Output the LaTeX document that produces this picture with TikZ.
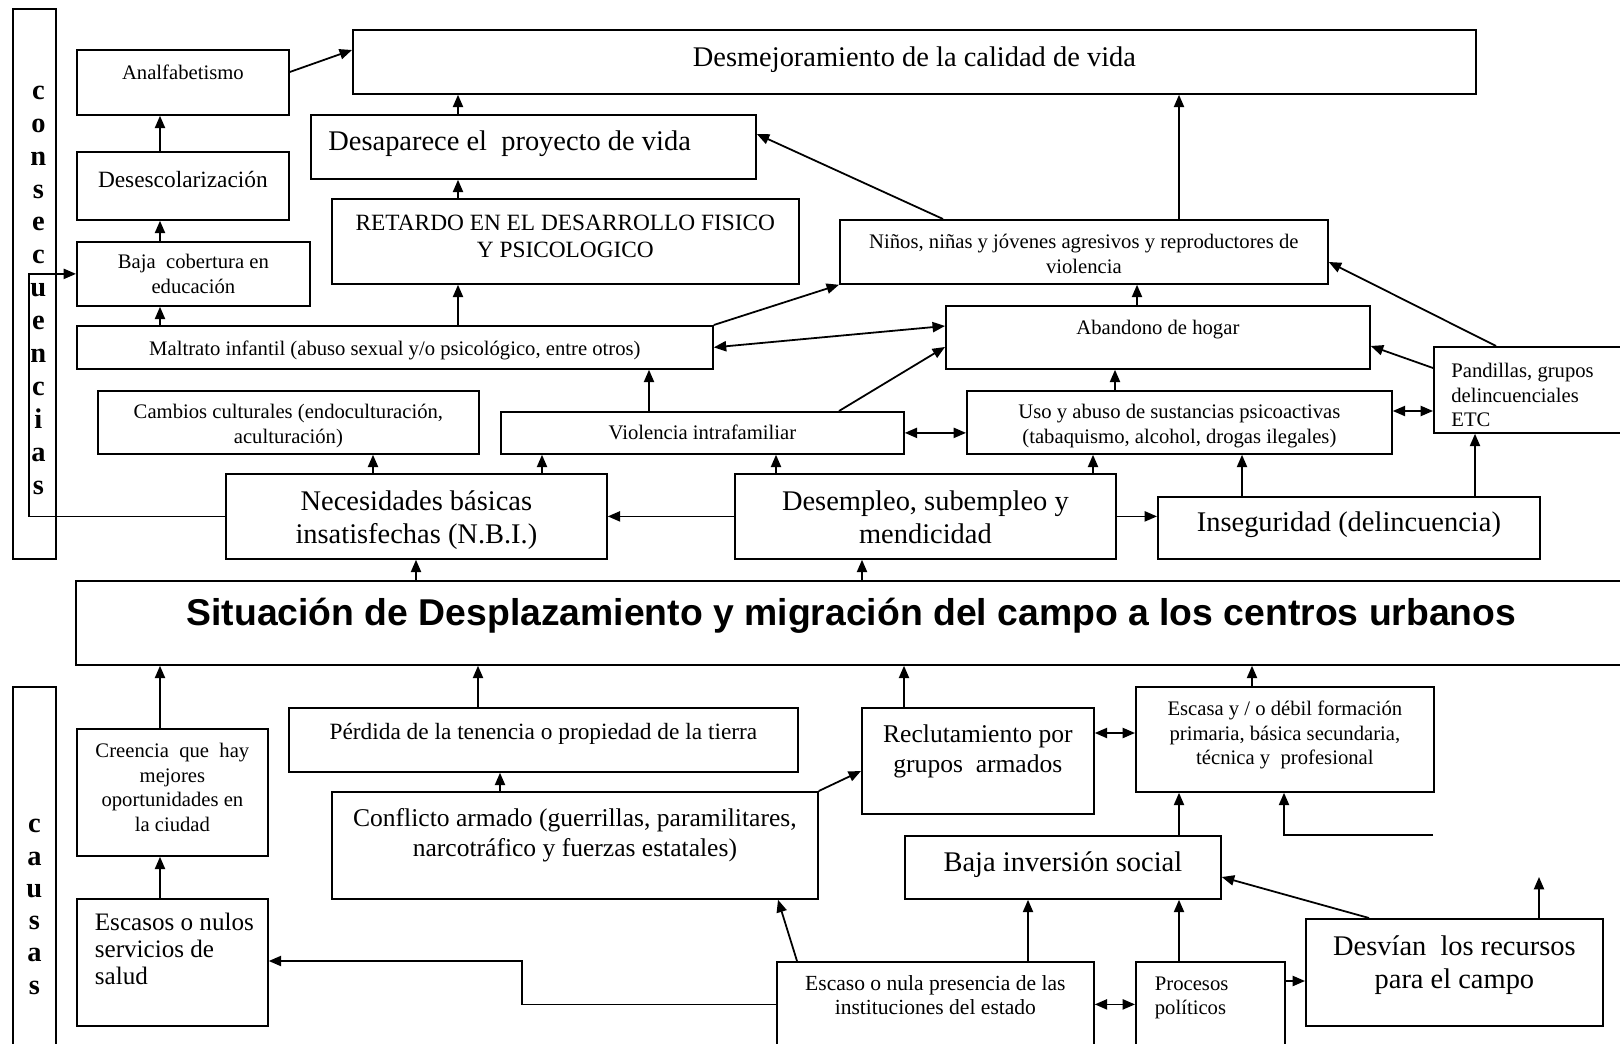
\documentclass[tikz,border=0pt]{standalone}
\usepackage{fontspec}
\setmainfont{Liberation Serif}
\setsansfont{Liberation Sans}
\usetikzlibrary{arrows.meta}

\newlength\px
\setlength\px{0.45pt}
\newcommand\fbig{\fontsize{12.8}{14.8}\selectfont}
\newcommand\fmed{\fontsize{11.5}{13.5}\selectfont}
\newcommand\fmid{\fontsize{10.5}{12.2}\selectfont}
\newcommand\fsml{\fontsize{9.3}{11}\selectfont}
\newcommand\lpad[1]{\raggedright\leftskip=#1\px\relax}
% \cell{name}{x1}{y1}{x2}{y2}{first baseline}{format}{text}
\newcommand\cell[8]{%
  \node[cellbox] (#1) at (#2,#3)
    {\parbox[t][\dimexpr\px*(#5-#3)\relax][t]{\dimexpr\px*(#4-#2)\relax}{#7\rule{0pt}{\dimexpr#6\px+2\px\relax}#8}};}

\begin{document}
\begin{tikzpicture}[->,>={Triangle[length=5.6pt,width=4.6pt]},x=0.45pt,y=-0.45pt,
                    line width=0.8pt]
    \tikzset{cellbox/.style={draw,anchor=north west,inner sep=0pt}}
    \useasboundingbox (0,0) rectangle (1620,1044);

    \cell{cons}{12}{8}{55}{558}{88.5}{\centering\leftskip=8\px plus 1fil\bfseries\fontsize{12.8}{14.8}\selectfont}{c\\o\\n\\s\\e\\c\\u\\e\\n\\c\\i\\a\\s}
    \cell{analf}{76}{49}{288}{114}{28}{\centering\fsml}{Analfabetismo}
    \cell{desmej}{352}{29}{1475}{93}{34.5}{\centering\fbig}{Desmejoramiento de la calidad de vida}
    \cell{desesc}{76}{151}{288}{219}{34}{\centering\fmid}{Desescolarización}
    \cell{bajacob}{76}{241}{309}{305}{25}{\centering\fsml}{Baja\ \ cobertura en\\educación}
    \cell{desap}{310}{114}{755}{178}{34}{\lpad{17.5}\fbig}{Desaparece el\ \ proyecto de vida}
    \cell{retardo}{331}{198}{798}{283}{29.5}{\centering\fmid}{RETARDO EN EL DESARROLLO FISICO\\Y PSICOLOGICO}
    \cell{ninos}{839}{219}{1327}{283}{27}{\centering\fsml}{Niños, niñas y jóvenes agresivos y reproductores de\\violencia}
    \cell{maltrato}{76}{325}{712}{368}{28}{\centering\fsml}{Maltrato infantil (abuso sexual y/o psicológico, entre otros)}
    \cell{abandono}{945}{305}{1369}{368}{27}{\centering\fsml}{Abandono de hogar}
    \cell{cambios}{97}{390}{478}{453}{26}{\centering\fsml}{Cambios culturales (endoculturación,\\aculturación)}
    \cell{violencia}{500}{411}{903}{453}{26}{\centering\fsml}{Violencia intrafamiliar}
    \cell{uso}{966}{390}{1391}{453}{26}{\centering\fsml}{Uso y abuso de sustancias psicoactivas\\(tabaquismo, alcohol, drogas ilegales)}
    \cell{pandillas}{1433}{346}{1622}{432}{29}{\lpad{17.5}\fsml}{Pandillas, grupos\\delincuenciales\\ETC}
    \cell{nbi}{225}{473}{606}{558}{34.5}{\centering\fbig}{Necesidades básicas\\insatisfechas (N.B.I.)}
    \cell{desempleo}{734}{473}{1115}{558}{34.5}{\centering\fbig}{Desempleo, subempleo y\\mendicidad}
    \cell{inseg}{1157}{496}{1539}{558}{32.5}{\centering\fbig}{Inseguridad (delincuencia)}
    \cell{situ}{75}{580}{1626}{664}{42.5}{\centering\sffamily\bfseries\fontsize{16.8}{20}\selectfont}{Situación de Desplazamiento y migración del campo a los centros urbanos}
    \cell{causas}{12}{686}{55}{1050}{144}{\centering\bfseries\fontsize{12.8}{14.5}\selectfont}{c\\a\\u\\s\\a\\s}
    \cell{creencia}{76}{728}{267}{855}{27}{\centering\fsml}{Creencia\ \ que\ \ hay\\mejores\\oportunidades en\\la ciudad}
    \cell{perdida}{288}{707}{797}{771}{30}{\centering\fmid}{Pérdida de la tenencia o propiedad de la tierra}
    \cell{reclut}{861}{707}{1093}{813}{32.5}{\centering\fmed}{Reclutamiento por\\grupos\ \ armados}
    \cell{escasa}{1135}{686}{1433}{791}{27}{\centering\fsml}{Escasa y / o débil formación\\primaria, básica secundaria,\\técnica y\ \ profesional}
    \cell{conflicto}{331}{791}{817}{898}{33}{\centering\fmed}{Conflicto armado (guerrillas, paramilitares,\\narcotráfico y fuerzas estatales)}
    \cell{bajainv}{904}{835}{1220}{898}{33.5}{\centering\fbig}{Baja inversión social}
    \cell{salud}{76}{898}{267}{1025}{29.5}{\lpad{18}\fontsize{11.3}{12.1}\selectfont}{Escasos o nulos\\servicios de\\salud}
    \cell{presencia}{776}{961}{1093}{1046}{26.5}{\centering\fontsize{9.7}{11}\selectfont}{Escaso o nula presencia de las\\instituciones del estado}
    \cell{procesos}{1135}{961}{1284}{1046}{26.5}{\lpad{19}\fsml}{Procesos\\políticos}
    \cell{desvian}{1305}{918}{1602}{1025}{35}{\centering\fbig}{Desvían\ \ los recursos\\para el campo}

    \path
    (desesc.north -| 160,0) edge (analf.south -| 160,0)
    (bajacob.north -| 160,0) edge (desesc.south -| 160,0)
    (maltrato.north -| 160,0) edge (bajacob.south -| 160,0)
    (analf.east |- 0,72) edge (desmej.west |- 0,50)
    (desap.north -| 458,0) edge (desmej.south -| 458,0)
    (retardo.north -| 458,0) edge (desap.south -| 458,0)
    (maltrato.north -| 458,0) edge (retardo.south -| 458,0)
    (ninos.north -| 1179,0) edge (desmej.south -| 1179,0)
    (ninos.north -| 943,0) edge (desap.east |- 0,134)
    (maltrato.north east) edge (ninos.south west)
    (maltrato.east) edge[<->] (abandono.west |- 0,326)
    (violencia.north -| 839,0) edge (abandono.west |- 0,347)
    (violencia.north -| 649,0) edge (maltrato.south -| 649,0)
    (abandono.north -| 1137,0) edge (ninos.south -| 1137,0)
    (uso.north -| 1115,0) edge (abandono.south -| 1115,0)
    (pandillas.west |- 0,368) edge (abandono.east |- 0,346)
    (pandillas.north -| 1496,0) edge (ninos.east |- 0,262)
    (violencia.east) edge[<->] (uso.west |- violencia.east)
    (uso.east |- 0,411) edge[<->] (pandillas.west |- 0,411)
    (nbi.north -| 373,0) edge (cambios.south -| 373,0)
    (nbi.north -| 542,0) edge (violencia.south -| 542,0)
    (desempleo.north -| 776,0) edge (violencia.south -| 776,0)
    (desempleo.north -| 1093,0) edge (uso.south -| 1093,0)
    (desempleo.west) edge (nbi.east)
    (desempleo.east) edge (inseg.west |- desempleo.east)
    (inseg.north -| 1242,0) edge (uso.south -| 1242,0)
    (inseg.north -| 1475,0) edge (pandillas.south -| 1475,0)
    (situ.north -| 416,0) edge (nbi.south -| 416,0)
    (situ.north -| 862,0) edge (desempleo.south -| 862,0);
    \draw (nbi.west) -- (nbi.west -| 29,0) |- (bajacob.west);

    \path
    (creencia.north -| 160,0) edge (situ.south -| 160,0)
    (perdida.north -| 478,0) edge (situ.south -| 478,0)
    (reclut.north -| 904,0) edge (situ.south -| 904,0)
    (escasa.north -| 1252,0) edge (situ.south -| 1252,0)
    (conflicto.north -| 500,0) edge (perdida.south -| 500,0)
    (conflicto.north east) edge (reclut.west |- 0,771)
    (reclut.east |- 0,733) edge[<->] (escasa.west |- 0,733)
    (bajainv.north -| 1179,0) edge (escasa.south -| 1179,0)
    (salud.north -| 160,0) edge (creencia.south -| 160,0)
    (presencia.north -| 1028,0) edge (bajainv.south -| 1028,0)
    (procesos.north -| 1179,0) edge (bajainv.south -| 1179,0)
    (desvian.north -| 1369,0) edge (bajainv.east |- 0,877)
    (presencia.north -| 797,0) edge (conflicto.south -| 778,0)
    (presencia.east) edge[<->] (procesos.west)
    (procesos.east |- 0,981) edge (desvian.west |- 0,981);
    \draw (presencia.west) -| (522,961) -- (salud.east |- 0,961);
    \coordinate (loose1) at (1433,835);
    \coordinate (loose2) at (1539,877);
    \draw (loose1) -| (escasa.south -| 1284,0);
    \draw (desvian.north -| loose2) -- (loose2);
\end{tikzpicture}
\end{document}
